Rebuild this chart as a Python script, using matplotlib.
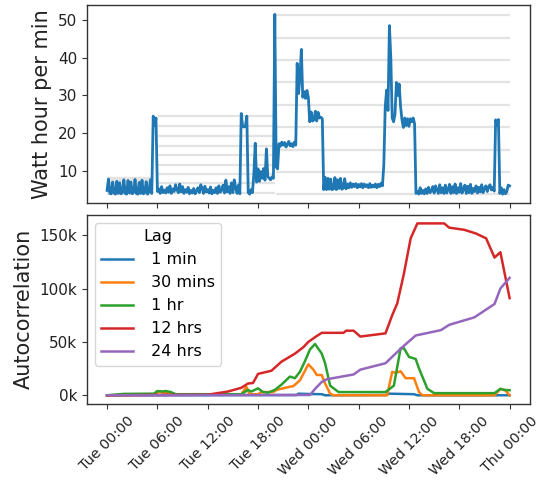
import numpy as np
import pandas as pd
import matplotlib
matplotlib.use('Agg')
import matplotlib.pyplot as plt
import matplotlib.dates as mdates
from matplotlib.ticker import FuncFormatter, MultipleLocator

start = pd.Timestamp('2007-01-02 00:00')  # a Tuesday

# watt hour per minute, one value every 10 minutes, one row per hour
power = [
    4.8, 7.8, 4.0, 3.9, 7.0, 4.1,
    3.8, 7.2, 4.0, 6.8, 3.9, 4.2,
    7.6, 4.0, 3.8, 7.4, 4.1, 7.0,
    3.9, 4.3, 7.7, 4.0, 3.8, 6.9,
    4.0, 7.5, 3.9, 4.2, 7.1, 3.8,
    4.5, 7.6, 4.0, 24.5, 22.0, 24.0,
    4.5, 5.2, 4.0, 5.8, 4.2, 4.9,
    4.1, 5.5, 4.3, 6.0, 4.0, 5.2,
    4.5, 6.3, 5.0, 4.2, 6.5, 4.4,
    5.8, 4.0, 5.0, 4.3, 5.6, 3.9,
    4.8, 4.1, 5.3, 3.9, 4.6, 5.5,
    4.2, 6.3, 5.4, 4.0, 5.9, 4.4,
    5.0, 4.1, 5.7, 3.9, 4.8, 4.2,
    5.5, 4.0, 6.0, 4.3, 4.9, 6.2,
    4.1, 7.5, 4.4, 5.8, 4.0, 6.8,
    4.2, 7.6, 5.5, 4.0, 6.2, 3.9,
    25.2, 21.8, 21.6, 21.9, 24.5, 4.2,
    3.8, 5.0, 4.2, 9.0, 17.3, 7.0,
    10.5, 7.2, 9.8, 8.0, 10.6, 7.5,
    15.8, 8.5, 8.0, 7.6, 8.4, 8.0,
    51.5, 11.0, 10.5, 17.2, 16.5, 17.6,
    16.8, 17.5, 16.3, 17.0, 17.8, 16.6,
    17.2, 16.4, 17.6, 16.8, 38.5, 30.5,
    35.0, 42.2, 29.5, 31.0, 29.2, 31.3,
    29.5, 23.0, 25.6, 23.2, 23.5, 25.8,
    23.2, 25.5, 24.0, 24.2, 23.8, 5.0,
    8.3, 5.0, 8.0, 5.1, 7.8, 5.0,
    5.2, 8.2, 5.0, 7.6, 5.3, 8.0,
    5.1, 5.4, 7.9, 5.2, 6.5, 5.5,
    6.8, 5.6, 6.5, 5.8, 6.6, 5.5,
    6.4, 5.7, 6.6, 5.5, 6.5, 5.8,
    6.3, 5.5, 6.6, 5.6, 6.2, 5.7,
    6.5, 5.5, 6.4, 5.8, 6.7, 6.0,
    11.5, 27.0, 31.4, 26.0, 48.5, 40.0,
    24.0, 23.0, 25.0, 33.4, 30.0, 33.0,
    27.0, 23.5, 21.5, 24.0, 22.0, 23.8,
    21.8, 23.8, 23.0, 24.0, 22.5, 4.0,
    4.5, 3.8, 5.5, 4.0, 4.8, 3.9,
    5.2, 4.0, 5.6, 4.2, 4.6, 5.8,
    4.1, 6.0, 5.0, 4.0, 6.3, 4.2,
    5.5, 4.0, 6.2, 4.1, 5.0, 6.4,
    4.0, 5.8, 4.2, 6.5, 4.0, 5.5,
    4.3, 6.6, 4.1, 5.0, 6.2, 4.0,
    5.9, 4.2, 6.4, 4.0, 5.3, 4.5,
    6.0, 4.1, 5.6, 4.4, 6.3, 4.2,
    5.4, 6.0, 4.5, 5.8, 6.3, 4.9,
    5.6, 4.6, 23.5, 22.0, 23.6, 4.0,
    5.5, 3.8, 5.0, 3.9, 4.5, 6.2,
    6.0,
]

# faint horizontal levels behind the series (hours from start)
band_spans = [(0.0, 5.5), (6.1, 20.0), (20.1, 48.0)]
band_levels = [
    [3.8, 4.33, 4.85, 5.38, 5.9, 6.43, 6.95, 7.48, 8.0],
    [4.2, 6.7, 9.2, 11.6, 14.1, 16.6, 19.2, 21.9, 24.6],
    [3.8, 9.6, 15.6, 21.5, 27.4, 33.5, 39.4, 45.3, 51.3],
]

# autocorrelation (thousands), breakpoints in hours from start
lag_names = ['1 min', '30 mins', '1 hr', '12 hrs', '24 hrs']
lag_hours = {
    '1 min': [0, 22.6, 22.8, 24.0, 25.6, 26.0, 33.2, 33.6, 36.6, 37.0, 48],
    '30 mins': [0, 5.8, 6.2, 6.6, 7.2, 7.8, 16.0, 16.6, 17.0, 18.0, 18.4, 19.8, 20.2,
                21.8, 22.2, 23.0, 24.0, 24.6, 25.0, 25.6, 26.0, 26.6, 27.0, 33.4,
                34.0, 34.4, 35.0, 35.6, 36.6, 37.2, 37.6, 46.2, 46.9, 47.5, 48],
    '1 hr': [0, 2, 5.6, 6.0, 6.6, 7.0, 7.6, 8.2, 16.0, 16.8, 17.2, 18.0, 18.6, 19.2,
             20.0, 20.8, 21.8, 22.4, 23.0, 23.6, 24.2, 24.8, 25.6, 26.0, 26.6, 27.6,
             33.2, 34.2, 35.0, 35.4, 36.0, 36.8, 37.2, 38.2, 39.0, 46.2, 46.9, 47.4, 48],
    '12 hrs': [0, 6, 12, 14.4, 16, 16.8, 17.4, 18, 19.6, 20.8, 22.4, 23.4, 24.0, 25.0,
               25.6, 28.2, 28.5, 29.4, 30.2, 32.2, 33.2, 34.0, 34.6, 35.4, 36.2, 37.0,
               40.2, 40.8, 42.6, 44.0, 45.2, 46.2, 46.9, 48],
    '24 hrs': [0, 24.2, 24.8, 25.6, 26.2, 29.4, 30.2, 33.2, 35.2, 36.8, 39.8, 40.8,
               43.8, 46.2, 46.9, 48],
}
lag_values = {
    '1 min': [0, 0.2, 1.5, 1.2, 1.0, 0, 0.2, 1.5, 1.0, 0, 0],
    '30 mins': [0, 0.5, 3.5, 2.5, 2.0, 0.5, 0.5, 8.0, 1.0, 1.0, 3.0, 3.0, 5.0,
                8.0, 8.5, 14.0, 29.0, 24.0, 19.0, 19.0, 11.0, 1.5, 0, 0,
                22.0, 21.0, 22.5, 16.0, 16.0, 3.0, 0, 0, 6.0, 4.5, 0],
    '1 hr': [0, 1.3, 1.5, 4.0, 3.5, 4.0, 3.0, 1.0, 1.0, 5.0, 3.5, 6.5, 3.0, 2.5,
             5.0, 10.0, 17.5, 16.0, 22.0, 32.0, 43.0, 48.0, 39.0, 30.0, 9.0, 3.0,
             3.0, 9.0, 44.0, 44.0, 36.0, 34.0, 25.0, 6.0, 2.0, 2.0, 6.0, 5.0, 4.7],
    '12 hrs': [0, 0.3, 0.5, 3.5, 7.0, 11.0, 11.5, 20.0, 23.0, 31.5, 39.0, 45.0, 50.0, 55.5,
               58.5, 58.5, 60.5, 60.5, 55.0, 57.0, 58.0, 75.0, 86.0, 114.0, 147.0, 161.0,
               161.0, 157.0, 155.0, 151.5, 147.0, 129.0, 134.0, 91.0],
    '24 hrs': [0, 0.3, 6.0, 12.5, 15.0, 19.5, 24.0, 30.0, 45.0, 56.0, 61.0, 66.0,
               73.0, 85.5, 100.0, 110.0],
}
lag_colors = ['#1f77b4', '#ff7f0e', '#2ca02c', '#d62728', '#9467bd']

times = pd.date_range(start, periods=len(power), freq='10min')

plt.rcParams['axes.edgecolor'] = '#333333'
plt.rcParams['axes.linewidth'] = 1.0
plt.rcParams['xtick.color'] = '#333333'
plt.rcParams['ytick.color'] = '#333333'
plt.rcParams['xtick.labelcolor'] = '#222222'
plt.rcParams['ytick.labelcolor'] = '#222222'

fig = plt.figure(figsize=(5.4, 4.86), dpi=100)
ax1 = fig.add_axes([0.161, 0.582, 0.820, 0.407])
ax2 = fig.add_axes([0.161, 0.169, 0.820, 0.389], sharex=ax1)

for (h0, h1), levels in zip(band_spans, band_levels):
    ax1.hlines(levels, start + pd.Timedelta(hours=h0), start + pd.Timedelta(hours=h1),
               color='#e3e3e3', lw=1.6, zorder=1)
ax1.plot(times, power, color='#1f77b4', lw=2, zorder=2)
ax1.set_ylabel('Watt hour per min', fontsize=15, color='#222222')
ax1.tick_params(labelbottom=False, labelsize=11)

for name, c in zip(lag_names, lag_colors):
    t = start + pd.to_timedelta(lag_hours[name], unit='h')
    ax2.plot(t, lag_values[name], color=c, lw=1.8, label=' ' + name)

ax2.set_ylabel('Autocorrelation', fontsize=15, color='#222222')
ax2.yaxis.set_major_locator(MultipleLocator(50))
ax2.yaxis.set_major_formatter(FuncFormatter(lambda v, p: f'{v:.0f}k'))
ax2.xaxis.set_major_locator(mdates.HourLocator(byhour=[0, 6, 12, 18]))
ax2.xaxis.set_major_formatter(mdates.DateFormatter('%a %H:%M'))
ax2.tick_params(axis='y', labelsize=11)
ax2.tick_params(axis='x', labelsize=10.3)
plt.setp(ax2.get_xticklabels(), rotation=45)
ax2.legend(title='Lag', loc='upper left', fontsize=11.5, title_fontsize=11.5)

fig.savefig('out.png', dpi=100)
